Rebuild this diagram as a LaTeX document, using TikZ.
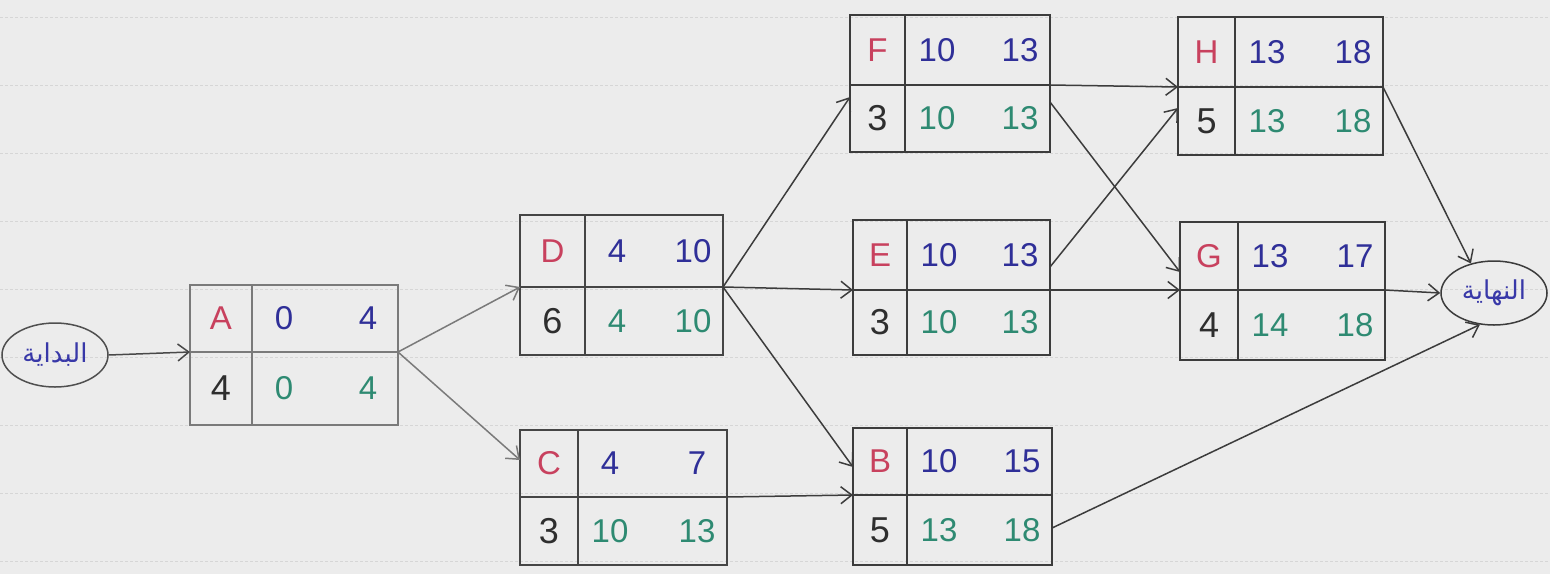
\documentclass[tikz,border=0pt]{standalone}
\usepackage{fontspec}
\setmainfont{Liberation Sans}
\newfontfamily\arabicfont[Script=Arabic]{DejaVu Sans}
\TeXXeTstate=1
\usetikzlibrary{shapes.geometric,arrows.meta,calc}
\definecolor{paper}{HTML}{ECECEC}
\definecolor{rule}{HTML}{D6D6D6}
\definecolor{letred}{HTML}{C8415E}
\definecolor{numblue}{HTML}{2F2F98}
\definecolor{numgreen}{HTML}{2E8A72}
\definecolor{durblack}{HTML}{2E2E2E}
\definecolor{pencil}{HTML}{7A7A7A}
\definecolor{ink}{HTML}{3C3C3C}
\definecolor{arabblue}{HTML}{3838A8}
\tikzset{
  boxnode/.style={rectangle, inner sep=0pt, outer sep=0pt, line width=1.6pt},
  divline/.style={line width=1.6pt},
  txt/.style={inner sep=0pt, font=\fontsize{33}{36}\selectfont},
  lett/.style={txt, text=letred},
  esn/.style={txt, text=numblue},
  lsn/.style={txt, text=numgreen},
  durn/.style={txt, text=durblack, font=\fontsize{36}{38}\selectfont},
  endpt/.style={ellipse, draw=ink, line width=1.5pt, inner sep=0pt, minimum width=106pt, minimum height=64pt, text=arabblue, font=\arabicfont\fontsize{26}{28}\selectfont},
  conn/.style={line width=1.5pt, draw=ink, -{Straight Barb[length=11pt,width=17pt,line width=1.5pt]}},
  pconn/.style={conn, draw=pencil},
}
\newcommand\pbox[8]{%
  \node[boxnode, draw=#8, minimum width={(#4-#2)*1pt}, minimum height={(#5-#3)*1pt}] (#1) at ({(#2+#4)/2},{(#3+#5)/2}) {};
  \draw[divline, draw=#8] (#6,#3) -- (#6,#5);
  \draw[divline, draw=#8] (#2,#7) -- (#4,#7);
  \coordinate (#1-in) at (#2,#7);
  \coordinate (#1-out) at (#4,#7);
  \coordinate (#1-c1) at ({(#2+#6)/2},{(#3+#7)/2});
  \coordinate (#1-c2) at ({(#2+#6)/2},{(#7+#5)/2});
  \coordinate (#1-c3) at ({#6+32},{(#3+#7)/2});
  \coordinate (#1-c4) at ({#4-30},{(#3+#7)/2});
  \coordinate (#1-c5) at ({#6+32},{(#7+#5)/2});
  \coordinate (#1-c6) at ({#4-30},{(#7+#5)/2});
}
\newcommand\pfill[7]{%
  \node[lett] (#1-l) at (#1-c1) {#2};
  \node[esn] (#1-es) at (#1-c3) {#3};
  \node[esn] (#1-ef) at (#1-c4) {#4};
  \node[durn] (#1-d) at (#1-c2) {#5};
  \node[lsn] (#1-ls) at (#1-c5) {#6};
  \node[lsn] (#1-lf) at (#1-c6) {#7};
}
\begin{document}
\begin{tikzpicture}[x=1pt,y=-1pt]
\useasboundingbox (0,0) rectangle (1550,574);
\fill[paper] (0,0) rectangle (1550,574);
\foreach \yy in {17,85,153,221,289,357,425,493,561}
  \draw[rule, line width=1pt, dash pattern=on 3pt off 2pt] (0,\yy) -- (1550,\yy);

% boxes: name, left, top, right, bottom, divider x, middle y, colour
\pbox{A}{190}{285}{398}{425}{252}{352}{pencil}
\pbox{D}{520}{215}{723}{355}{585}{287}{ink!85!pencil}
\pbox{C}{520}{430}{727}{565}{578}{497}{ink!85!pencil}
\pbox{F}{850}{15}{1050}{152}{905}{85}{ink}
\pbox{E}{853}{220}{1050}{355}{907}{290}{ink}
\pbox{B}{853}{428}{1052}{565}{907}{495}{ink}
\pbox{H}{1178}{17}{1383}{155}{1235}{87}{ink}
\pbox{G}{1180}{222}{1385}{360}{1238}{290}{ink}

\pfill{A}{A}{0}{4}{4}{0}{4}
\pfill{D}{D}{4}{10}{6}{4}{10}
\pfill{C}{C}{4}{7}{3}{10}{13}
\pfill{F}{F}{10}{13}{3}{10}{13}
\pfill{E}{E}{10}{13}{3}{10}{13}
\pfill{B}{B}{10}{15}{5}{13}{18}
\pfill{H}{H}{13}{18}{5}{13}{18}
\pfill{G}{G}{13}{17}{4}{14}{18}

\node[endpt, draw=ink!70!pencil] (S) at (55,355) {\beginR البداية\endR};
\node[endpt] (T) at (1494,293) {\beginR النهاية\endR};

\draw[conn, draw=ink!80!pencil] (S.east) -- (A-in);
\draw[pconn] (A-out) -- (D-in);
\draw[pconn] (A-out) -- ([yshift=37pt]C-in);
\draw[conn] (D-out) -- ([yshift=-12pt]F-in);
\draw[conn] (D-out) -- (E-in);
\draw[conn] (D-out) -- ([yshift=28pt]B-in);
\draw[conn] (C-out) -- (B-in);
\draw[conn] (F-out) -- (H-in);
\draw[conn] ([yshift=-17pt]F-out) -- ([yshift=18pt]G-in);
\draw[conn] ([yshift=23pt]E-out) -- ([yshift=-21pt]H-in);
\draw[conn] (E-out) -- (G-in);
\draw[conn] (H-out) -- (T.128);
\draw[conn] (G-out) -- (T.west);
\draw[conn] ([yshift=-33pt]B-out) -- (T.246);
\end{tikzpicture}
\end{document}
